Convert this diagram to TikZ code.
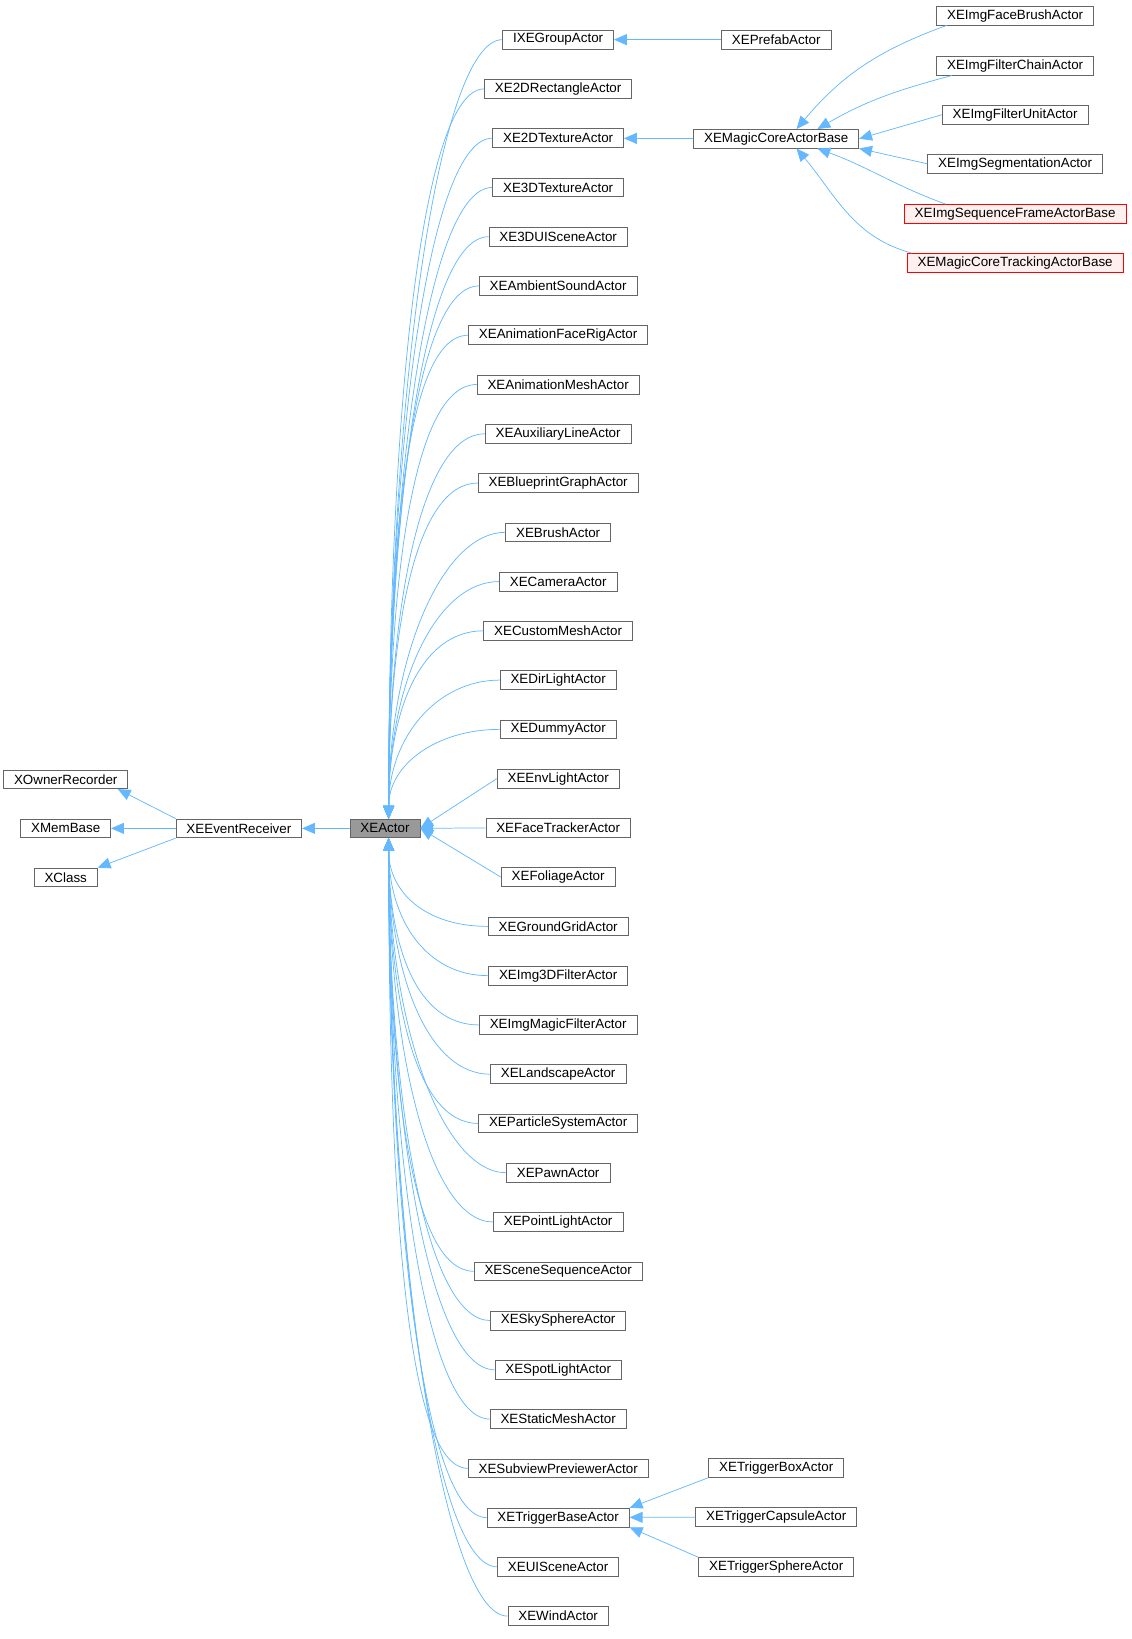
\documentclass[tikz,border=0pt]{standalone}
\usepackage{fontspec}
\setmainfont{Liberation Sans}
\usetikzlibrary{arrows.meta,positioning}
\definecolor{edgeblue}{HTML}{63B8FF}
\definecolor{boxgray}{HTML}{666666}
\definecolor{redfill}{HTML}{FFF0F0}
\begin{document}
\begin{tikzpicture}[
  x=0.02cm, y=-0.02cm,
  cls/.style={
    draw=boxgray,
    fill=white,
    minimum height=0.36cm,
    inner xsep=0.2cm,
    inner ysep=0pt,
    font=\fontsize{7.3}{9}\selectfont
  },
  incomplete/.style={cls, draw=red, fill=redfill},
  inh/.style={
    draw=edgeblue,
    {Triangle[length=7pt,width=6pt]}-
  }
]
  \useasboundingbox (0,0) rectangle (1085,1571);
  % core chain
  \node[cls, fill=black!40] (XEActor) at (369,794) {XEActor};
  \node[cls] (XEEventReceiver) at (229,794) {XEEventReceiver};
  \node[cls] (XOwnerRecorder) at (63,747) {XOwnerRecorder};
  \node[cls] (XMemBase) at (63,794) {XMemBase};
  \node[cls] (XClass) at (63,841) {XClass};
  \draw[inh] ([xshift=-0.2cm]XOwnerRecorder.south east) -- (XEEventReceiver.north west);
  \draw[inh] (XMemBase) -- (XEEventReceiver);
  \draw[inh] (XClass.north east) -- (XEEventReceiver.south west);
  \draw[inh] (XEEventReceiver) -- (XEActor);
  % direct subclasses
  \foreach \lbl [count=\i] in {IXEGroupActor,XE2DRectangleActor,XE2DTextureActor,
    XE3DTextureActor,XE3DUISceneActor,XEAmbientSoundActor,XEAnimationFaceRigActor,
    XEAnimationMeshActor,XEAuxiliaryLineActor,XEBlueprintGraphActor,XEBrushActor,
    XECameraActor,XECustomMeshActor,XEDirLightActor,XEDummyActor,XEEnvLightActor,
    XEFaceTrackerActor,XEFoliageActor,XEGroundGridActor,XEImg3DFilterActor,
    XEImgMagicFilterActor,XELandscapeActor,XEParticleSystemActor,XEPawnActor,
    XEPointLightActor,XESceneSequenceActor,XESkySphereActor,XESpotLightActor,
    XEStaticMeshActor,XESubviewPreviewerActor,XETriggerBaseActor,XEUISceneActor,
    XEWindActor}{
    \pgfmathsetmacro\yy{38+(\i-1)*47.22}
    \pgfmathsetmacro\dy{0.55*(794-\yy)}
    \node[cls] (\lbl) at (535,\yy) {\lbl};
    \ifnum\i<16
      \draw[inh] ([xshift=2pt]XEActor.north) .. controls +(0,-\dy) and +(-60,0) .. (\lbl.west);
    \else\ifnum\i>18
      \draw[inh] ([xshift=2pt]XEActor.south) .. controls +(0,-\dy) and +(-60,0) .. (\lbl.west);
    \else
      \draw[inh] (XEActor.east) -- (\lbl.west);
    \fi\fi
  }
  % second level
  \node[cls] (XEPrefabActor) at (744,38) {XEPrefabActor};
  \node[cls] (XEMagicCoreActorBase) at (744,133) {XEMagicCoreActorBase};
  \node[cls] (XETriggerBoxActor) at (744,1407) {XETriggerBoxActor};
  \node[cls] (XETriggerCapsuleActor) at (744,1454) {XETriggerCapsuleActor};
  \node[cls] (XETriggerSphereActor) at (744,1502) {XETriggerSphereActor};
  \draw[inh] (IXEGroupActor) -- (XEPrefabActor);
  \draw[inh] (XE2DTextureActor) -- (XEMagicCoreActorBase);
  \draw[inh] (XETriggerBaseActor.north east) -- (XETriggerBoxActor.south west);
  \draw[inh] (XETriggerBaseActor) -- (XETriggerCapsuleActor);
  \draw[inh] (XETriggerBaseActor.south east) -- (XETriggerSphereActor.north west);
  % third level
  \node[cls] (XEImgFaceBrushActor) at (973,15) {XEImgFaceBrushActor};
  \node[cls] (XEImgFilterChainActor) at (973,63) {XEImgFilterChainActor};
  \node[cls] (XEImgFilterUnitActor) at (973,110) {XEImgFilterUnitActor};
  \node[cls] (XEImgSegmentationActor) at (973,157) {XEImgSegmentationActor};
  \node[incomplete] (XEImgSequenceFrameActorBase) at (973,205) {XEImgSequenceFrameActorBase};
  \node[incomplete] (XEMagicCoreTrackingActorBase) at (973,252) {XEMagicCoreTrackingActorBase};
  \draw[inh] ([xshift=-1.2cm]XEMagicCoreActorBase.north east) to[out=50,in=200] ([xshift=0.2cm]XEImgFaceBrushActor.south west);
  \draw[inh] ([xshift=-0.8cm]XEMagicCoreActorBase.north east) to[out=30,in=195] ([xshift=0.3cm]XEImgFilterChainActor.south west);
  \draw[inh] (XEMagicCoreActorBase.east) -- (XEImgFilterUnitActor.west);
  \draw[inh] (XEMagicCoreActorBase.south east) -- (XEImgSegmentationActor.west);
  \draw[inh] ([xshift=-0.8cm]XEMagicCoreActorBase.south east) to[out=-20,in=160] ([xshift=0.8cm]XEImgSequenceFrameActorBase.north west);
  \draw[inh] ([xshift=-1.2cm]XEMagicCoreActorBase.south east) to[out=-50,in=165] ([xshift=0.1cm]XEMagicCoreTrackingActorBase.north west);
\end{tikzpicture}
\end{document}
